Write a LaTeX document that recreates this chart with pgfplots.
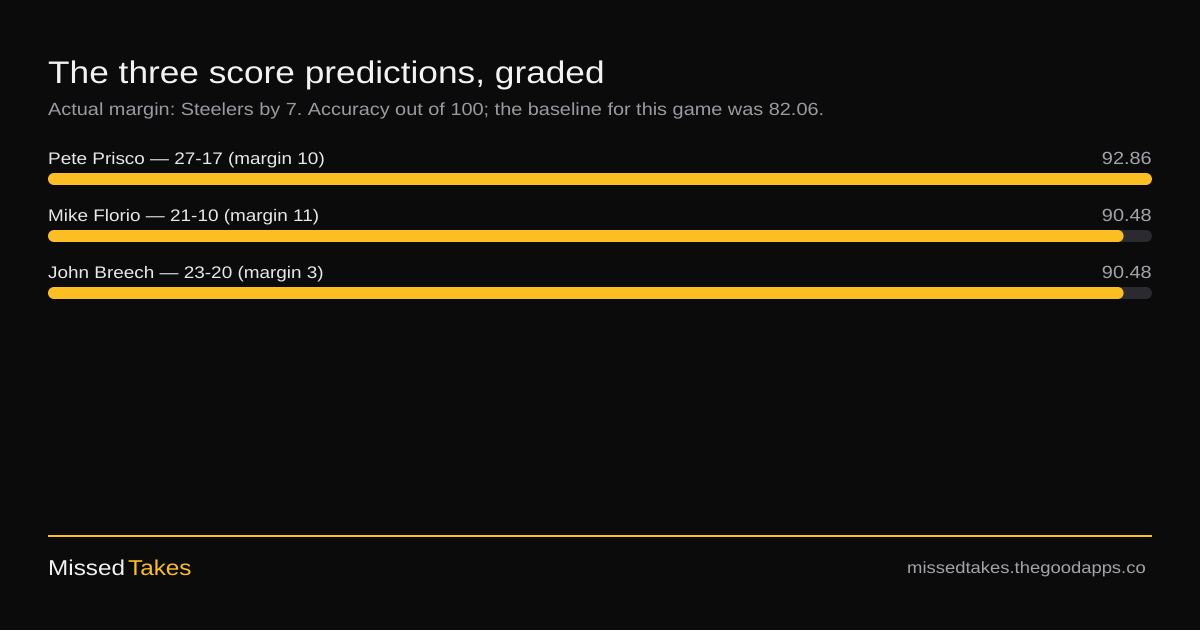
\documentclass[border=0pt]{standalone}
\usepackage{pgfplots}
\pgfplotsset{compat=1.18}
\usepackage{fontspec}
\setmainfont{Liberation Sans}[FakeStretch=1.13]
\definecolor{bg}{HTML}{0B0B0B}
\definecolor{amber}{HTML}{FBBF24}
\definecolor{track}{HTML}{2B2A31}
\definecolor{titlec}{HTML}{F2F2F2}
\definecolor{subc}{HTML}{9A9AA2}
\definecolor{labc}{HTML}{E8E8E8}
\definecolor{valc}{HTML}{A3A3AA}
\begin{document}
\frenchspacing
\begin{tikzpicture}[x=1pt,y=1pt]
\fill[bg] (0,0) rectangle (1200,630);
\node[anchor=base west, inner sep=0, text=titlec, font=\fontsize{31.2}{34}\selectfont] at (48,{630-84}) {The three score predictions, graded};
\node[anchor=base west, inner sep=0, text=subc, font=\fontsize{17.6}{20}\selectfont] at (48,{630-116}) {Actual margin: Steelers by 7. Accuracy out of 100; the baseline for this game was 82.06.};
\begin{axis}[
  at={(48pt,0pt)}, anchor=south west,
  scale only axis, width=1104pt, height=630pt,
  xmin=0, xmax=92.86, ymin=0, ymax=630, y dir=reverse,
  hide axis, clip=false,
  every axis plot/.append style={line width=12pt, line cap=round, shorten <=6pt, shorten >=6pt},
]
% tracks
\addplot[track] coordinates {(0,179) (92.86,179)};
\addplot[track] coordinates {(0,236) (92.86,236)};
\addplot[track] coordinates {(0,293) (92.86,293)};
% scores
\addplot[amber] coordinates {(0,179) (92.86,179)};
\addplot[amber] coordinates {(0,236) (90.48,236)};
\addplot[amber] coordinates {(0,293) (90.48,293)};
\node[anchor=base west, inner sep=0, text=labc, font=\fontsize{16.75}{20}\selectfont] at (axis cs:0,164) {Pete Prisco — 27-17 (margin 10)};
\node[anchor=base west, inner sep=0, text=labc, font=\fontsize{16.75}{20}\selectfont] at (axis cs:0,221) {Mike Florio — 21-10 (margin 11)};
\node[anchor=base west, inner sep=0, text=labc, font=\fontsize{16.75}{20}\selectfont] at (axis cs:0,278) {John Breech — 23-20 (margin 3)};
\node[anchor=base east, inner sep=0, text=valc, font=\fontsize{17.6}{20}\selectfont] at (axis cs:92.86,164) {92.86};
\node[anchor=base east, inner sep=0, text=valc, font=\fontsize{17.6}{20}\selectfont] at (axis cs:92.86,221) {90.48};
\node[anchor=base east, inner sep=0, text=valc, font=\fontsize{17.6}{20}\selectfont] at (axis cs:92.86,278) {90.48};
\end{axis}
\draw[amber, line width=1.5pt] (48,{630-536}) -- (1152,{630-536});
\node[anchor=base west, inner sep=0, font=\fontsize{21.5}{24}\selectfont] at (48,{630-575}) {\textcolor{titlec}{Missed}\hspace{3pt}\textcolor{amber}{Takes}};
\node[anchor=base east, inner sep=0, text=valc, font=\fontsize{16.3}{20}\selectfont] at (1146,{630-573}) {missedtakes.thegoodapps.co};
\end{tikzpicture}
\end{document}
